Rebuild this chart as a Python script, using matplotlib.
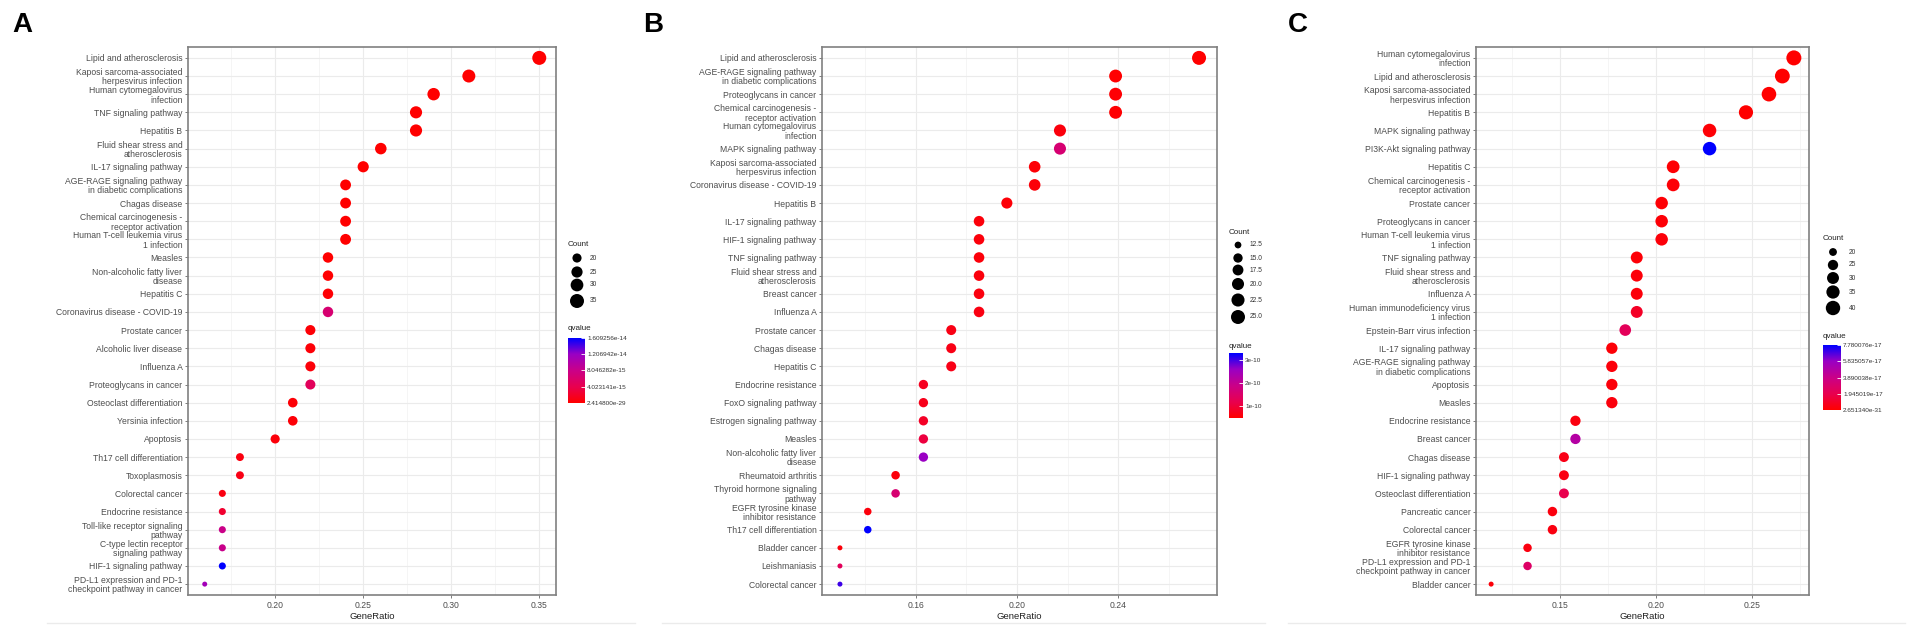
import numpy as np
import matplotlib
matplotlib.use("Agg")
import matplotlib.pyplot as plt
from matplotlib.colors import LinearSegmentedColormap, Normalize
from matplotlib.cm import ScalarMappable
from matplotlib.lines import Line2D

plt.rcParams['font.family'] = ['Liberation Sans', 'DejaVu Sans']

# ---------------- Panel A ----------------
terms_a = [
    "Lipid and atherosclerosis",
    "Kaposi sarcoma-associated\nherpesvirus infection",
    "Human cytomegalovirus\ninfection",
    "TNF signaling pathway",
    "Hepatitis B",
    "Fluid shear stress and\natherosclerosis",
    "IL-17 signaling pathway",
    "AGE-RAGE signaling pathway\nin diabetic complications",
    "Chagas disease",
    "Chemical carcinogenesis -\nreceptor activation",
    "Human T-cell leukemia virus\n1 infection",
    "Measles",
    "Non-alcoholic fatty liver\ndisease",
    "Hepatitis C",
    "Coronavirus disease - COVID-19",
    "Prostate cancer",
    "Alcoholic liver disease",
    "Influenza A",
    "Proteoglycans in cancer",
    "Osteoclast differentiation",
    "Yersinia infection",
    "Apoptosis",
    "Th17 cell differentiation",
    "Toxoplasmosis",
    "Colorectal cancer",
    "Endocrine resistance",
    "Toll-like receptor signaling\npathway",
    "C-type lectin receptor\nsignaling pathway",
    "HIF-1 signaling pathway",
    "PD-L1 expression and PD-1\ncheckpoint pathway in cancer",
]
ratio_a = [0.35, 0.31, 0.29, 0.28, 0.28, 0.26, 0.25, 0.24, 0.24, 0.24,
           0.24, 0.23, 0.23, 0.23, 0.23, 0.22, 0.22, 0.22, 0.22, 0.21,
           0.21, 0.20, 0.18, 0.18, 0.17, 0.17, 0.17, 0.17, 0.17, 0.16]
count_a = [35, 31, 29, 28, 28, 26, 25, 24, 24, 24,
           24, 23, 23, 23, 23, 22, 22, 22, 22, 21,
           21, 20, 18, 18, 17, 17, 17, 17, 17, 16]
q_a = [2.414800e-29, 5.2e-25, 3.1e-23, 8.4e-22, 1.5e-21, 2.2e-20, 6.8e-19, 1.1e-18, 3.5e-18, 7.2e-18,
       9.0e-18, 4.1e-17, 8.8e-17, 2.5e-16, 6.4e-15, 3.2e-16, 4.0e-16, 4.6e-16, 4.8e-15, 3.6e-16,
       3.9e-16, 5.5e-16, 8.1e-16, 1.1e-15, 9.0e-16, 2.4e-15, 8.0e-15, 8.2e-15, 1.609256e-14, 1.13e-14]
size_breaks_a = [20, 25, 30, 35]
q_ticks_a = [2.414800e-29, 4.023141e-15, 8.046282e-15, 1.206942e-14, 1.609256e-14]
q_labels_a = ["2.414800e-29", "4.023141e-15", "8.046282e-15", "1.206942e-14", "1.609256e-14"]

# ---------------- Panel B ----------------
terms_b = [
    "Lipid and atherosclerosis",
    "AGE-RAGE signaling pathway\nin diabetic complications",
    "Proteoglycans in cancer",
    "Chemical carcinogenesis -\nreceptor activation",
    "Human cytomegalovirus\ninfection",
    "MAPK signaling pathway",
    "Kaposi sarcoma-associated\nherpesvirus infection",
    "Coronavirus disease - COVID-19",
    "Hepatitis B",
    "IL-17 signaling pathway",
    "HIF-1 signaling pathway",
    "TNF signaling pathway",
    "Fluid shear stress and\natherosclerosis",
    "Breast cancer",
    "Influenza A",
    "Prostate cancer",
    "Chagas disease",
    "Hepatitis C",
    "Endocrine resistance",
    "FoxO signaling pathway",
    "Estrogen signaling pathway",
    "Measles",
    "Non-alcoholic fatty liver\ndisease",
    "Rheumatoid arthritis",
    "Thyroid hormone signaling\npathway",
    "EGFR tyrosine kinase\ninhibitor resistance",
    "Th17 cell differentiation",
    "Bladder cancer",
    "Leishmaniasis",
    "Colorectal cancer",
]
ratio_b = [0.272, 0.239, 0.239, 0.239, 0.217, 0.217, 0.207, 0.207, 0.196, 0.185,
           0.185, 0.185, 0.185, 0.185, 0.185, 0.174, 0.174, 0.174, 0.163, 0.163,
           0.163, 0.163, 0.163, 0.152, 0.152, 0.141, 0.141, 0.130, 0.130, 0.130]
count_b = [25, 22, 22, 22, 20, 20, 19, 19, 18, 17,
           17, 17, 17, 17, 17, 16, 16, 16, 15, 15,
           15, 15, 15, 14, 14, 13, 13, 12, 12, 12]
q_b = [5.0e-11, 5.2e-11, 5.4e-11, 5.3e-11, 6.2e-11, 1.62e-10, 5.6e-11, 5.8e-11, 5.7e-11, 5.9e-11,
       6.0e-11, 5.9e-11, 6.1e-11, 6.3e-11, 6.6e-11, 6.8e-11, 6.9e-11, 7.0e-11, 7.9e-11, 7.3e-11,
       8.4e-11, 1.06e-10, 2.6e-10, 5.9e-11, 1.62e-10, 6.0e-11, 3.3e-10, 5.8e-11, 1.34e-10, 3.02e-10]
size_breaks_b = [12.5, 15.0, 17.5, 20.0, 22.5, 25.0]
q_ticks_b = [1e-10, 2e-10, 3e-10]
q_labels_b = ["1e-10", "2e-10", "3e-10"]

# ---------------- Panel C ----------------
terms_c = [
    "Human cytomegalovirus\ninfection",
    "Lipid and atherosclerosis",
    "Kaposi sarcoma-associated\nherpesvirus infection",
    "Hepatitis B",
    "MAPK signaling pathway",
    "PI3K-Akt signaling pathway",
    "Hepatitis C",
    "Chemical carcinogenesis -\nreceptor activation",
    "Prostate cancer",
    "Proteoglycans in cancer",
    "Human T-cell leukemia virus\n1 infection",
    "TNF signaling pathway",
    "Fluid shear stress and\natherosclerosis",
    "Influenza A",
    "Human immunodeficiency virus\n1 infection",
    "Epstein-Barr virus infection",
    "IL-17 signaling pathway",
    "AGE-RAGE signaling pathway\nin diabetic complications",
    "Apoptosis",
    "Measles",
    "Endocrine resistance",
    "Breast cancer",
    "Chagas disease",
    "HIF-1 signaling pathway",
    "Osteoclast differentiation",
    "Pancreatic cancer",
    "Colorectal cancer",
    "EGFR tyrosine kinase\ninhibitor resistance",
    "PD-L1 expression and PD-1\ncheckpoint pathway in cancer",
    "Bladder cancer",
]
ratio_c = [0.272, 0.266, 0.259, 0.247, 0.228, 0.228, 0.209, 0.209, 0.203, 0.203,
           0.203, 0.190, 0.190, 0.190, 0.190, 0.184, 0.177, 0.177, 0.177, 0.177,
           0.158, 0.158, 0.152, 0.152, 0.152, 0.146, 0.146, 0.133, 0.133, 0.114]
count_c = [43, 42, 41, 39, 36, 36, 33, 33, 32, 32,
           32, 30, 30, 30, 30, 29, 28, 28, 28, 28,
           25, 25, 24, 24, 24, 23, 23, 21, 21, 18]
q_c = [2.651340e-31, 4.1e-29, 1.3e-27, 6.2e-25, 1.5e-18, 7.780076e-17, 1.2e-18, 1.6e-18, 1.4e-18, 1.7e-18,
       2.2e-18, 2.0e-18, 2.4e-18, 2.6e-18, 9.5e-18, 2.3e-17, 2.1e-18, 2.5e-18, 2.7e-18, 3.1e-18,
       3.8e-18, 4.8e-17, 5.5e-18, 4.0e-18, 1.9e-17, 3.6e-18, 4.2e-18, 3.9e-18, 2.7e-17, 2.4e-18]
size_breaks_c = [20, 25, 30, 35, 40]
q_ticks_c = [2.651340e-31, 1.945019e-17, 3.890038e-17, 5.835057e-17, 7.780076e-17]
q_labels_c = ["2.651340e-31", "1.945019e-17", "3.890038e-17", "5.835057e-17", "7.780076e-17"]

# ---------------- layout ----------------
W, H, DPI = 1910, 634, 100
fig = plt.figure(figsize=(W / DPI, H / DPI), dpi=DPI)
fig.patch.set_facecolor("white")

# red -> blue gradient (as ggplot interpolates it)
cmap = LinearSegmentedColormap.from_list(
    "q", ["#FF0000", "#E8004F", "#CA0088", "#9A00C3", "#0000FF"])


def px_axes(l, t, r, b):
    return fig.add_axes([l / W, 1 - b / H, (r - l) / W, (b - t) / H])


def dot_size(c, cmin, cmax, dmin, dmax):
    frac = np.clip((np.asarray(c, float) - cmin) / (cmax - cmin), 0, 1)
    d = dmin + (dmax - dmin) * np.sqrt(frac)
    return (d * 72 / DPI) ** 2


overlay = fig.add_axes([0, 0, 1, 1], zorder=10)
overlay.set_xlim(0, W)
overlay.set_ylim(H, 0)
overlay.axis("off")

panels = [
    dict(letter="A", lx=12, terms=terms_a, ratio=ratio_a, count=count_a, q=q_a,
         box=(188, 47, 556, 595), major=[0.20, 0.25, 0.30, 0.35],
         minor=[0.175, 0.225, 0.275, 0.325], fmt="{:.2f}",
         breaks=size_breaks_a, blabels=["20", "25", "30", "35"],
         leg=dict(x=568, title_y=244, dot_x=577, dot_y=[258, 272, 285, 301], lab_x=590,
                  q_y=329, bar=(568, 338, 585, 403)),
         qt=q_ticks_a, ql=q_labels_a, dsize=(5, 14), line=(47, 635)),
    dict(letter="B", lx=643, terms=terms_b, ratio=ratio_b, count=count_b, q=q_b,
         box=(822, 47, 1217, 595), major=[0.16, 0.20, 0.24],
         minor=[0.14, 0.18, 0.22, 0.26], fmt="{:.2f}",
         breaks=size_breaks_b, blabels=["12.5", "15.0", "17.5", "20.0", "22.5", "25.0"],
         leg=dict(x=1229, title_y=232, dot_x=1238, dot_y=[245, 258, 270, 284, 300, 317], lab_x=1250,
                  q_y=347, bar=(1229, 353, 1243, 418)),
         qt=q_ticks_b, ql=q_labels_b, dsize=(5, 14), line=(662, 1265)),
    dict(letter="C", lx=1288, terms=terms_c, ratio=ratio_c, count=count_c, q=q_c,
         box=(1476, 47, 1809, 595), major=[0.15, 0.20, 0.25],
         minor=[0.125, 0.175, 0.225, 0.275], fmt="{:.2f}",
         breaks=size_breaks_c, blabels=["20", "25", "30", "35", "40"],
         leg=dict(x=1823, title_y=238, dot_x=1833, dot_y=[252, 265, 278, 292, 308], lab_x=1849,
                  q_y=337, bar=(1823, 345, 1841, 410)),
         qt=q_ticks_c, ql=q_labels_c, dsize=(5, 15), line=(1288, 1905)),
]

for p in panels:
    n = len(p["terms"])
    y = np.arange(n, 0, -1)
    x = np.array(p["ratio"])
    q = np.array(p["q"])
    cnt = np.array(p["count"])
    cmin, cmax = cnt.min(), cnt.max()
    norm = Normalize(vmin=q.min(), vmax=q.max())

    ax = px_axes(*p["box"])
    ax.scatter(x, y, s=dot_size(cnt, cmin, cmax, *p["dsize"]), c=q, cmap=cmap,
               norm=norm, edgecolors="none", zorder=3)
    pad = (x.max() - x.min()) * 0.05
    ax.set_xlim(x.min() - pad, x.max() + pad)
    ax.set_ylim(0.4, n + 0.6)

    ax.set_yticks(y)
    ax.set_yticklabels(p["terms"], fontsize=6.2, color="#4D4D4D", linespacing=1.05)
    ax.set_xticks(p["major"])
    ax.set_xticklabels([p["fmt"].format(v) for v in p["major"]], fontsize=6.2, color="#4D4D4D")
    ax.set_xticks(p["minor"], minor=True)
    ax.tick_params(axis="both", which="major", length=2.5, width=0.6, color="#666666", pad=1.5)
    ax.tick_params(axis="x", which="minor", length=0)
    ax.grid(True, which="major", color="#EBEBEB", linewidth=0.8, zorder=0)
    ax.grid(True, which="minor", axis="x", color="#F2F2F2", linewidth=0.5, zorder=0)
    ax.set_axisbelow(True)
    for sp in ax.spines.values():
        sp.set_color("#808080")
        sp.set_linewidth(1.2)
    ax.set_xlabel("GeneRatio", fontsize=6.8, color="#222222", labelpad=1.5)

    # panel letter and faint panel edge
    overlay.text(p["lx"], 25, p["letter"], fontsize=20, fontweight="bold", va="center", ha="left")
    overlay.add_line(Line2D(p["line"], [623, 623], color="#EBEBEB", linewidth=1))

    # size legend
    lg = p["leg"]
    overlay.text(lg["x"], lg["title_y"], "Count", fontsize=5.8, va="center", ha="left", color="#222222")
    overlay.scatter([lg["dot_x"]] * len(p["breaks"]), lg["dot_y"],
                    s=dot_size(p["breaks"], cmin, cmax, *p["dsize"]), color="black",
                    edgecolors="none")
    for yy, lab in zip(lg["dot_y"], p["blabels"]):
        overlay.text(lg["lab_x"], yy, lab, fontsize=4.8, va="center", ha="left", color="#333333")

    # colour legend
    overlay.text(lg["x"], lg["q_y"], "qvalue", fontsize=5.8, va="center", ha="left", color="#222222")
    cax = px_axes(*lg["bar"])
    cb = fig.colorbar(ScalarMappable(norm=norm, cmap=cmap), cax=cax)
    cb.outline.set_visible(False)
    cb.set_ticks(p["qt"])
    cb.set_ticklabels(p["ql"])
    cax.tick_params(length=3, width=0.6, color="white", direction="in",
                    labelsize=4.6, pad=1.5, labelcolor="#333333")

fig.savefig("out.png", dpi=DPI, facecolor="white")
